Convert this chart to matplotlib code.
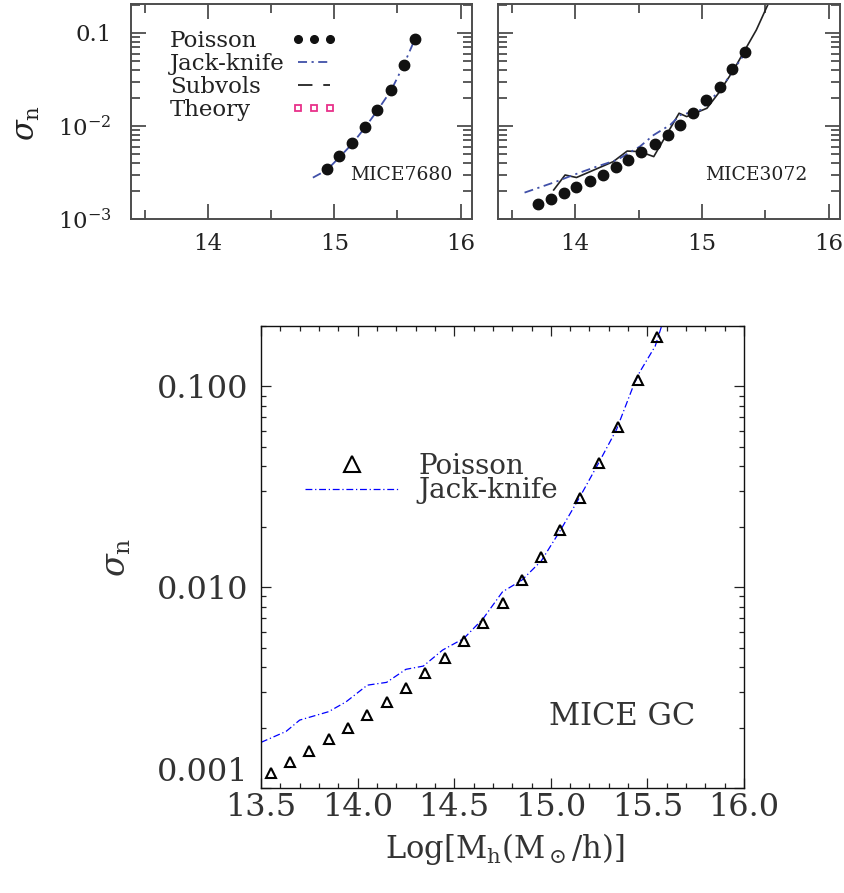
import matplotlib
matplotlib.use("Agg")
import matplotlib.pyplot as plt
from matplotlib.lines import Line2D
from matplotlib.ticker import FixedLocator, MultipleLocator, LogLocator, NullFormatter

plt.rcParams['font.family'] = ['DejaVu Serif']
plt.rcParams['mathtext.fontset'] = 'dejavuserif'

# MICE7680 (top left)
m7680_x = [14.94, 15.04, 15.14, 15.24, 15.34, 15.45, 15.55, 15.64]
m7680_pois = [0.00345, 0.00472, 0.00652, 0.00968, 0.0148, 0.0244, 0.0456, 0.0855]
m7680_jk_x = [14.83, 14.94, 15.04, 15.14, 15.24, 15.34, 15.45, 15.55, 15.63]
m7680_jk = [0.00278, 0.00335, 0.00460, 0.00640, 0.0095, 0.0146, 0.0242, 0.0455, 0.081]

# MICE3072 (top right)
m3072_x = [13.71, 13.81, 13.91, 14.01, 14.12, 14.22, 14.32, 14.42, 14.52,
           14.63, 14.73, 14.83, 14.93, 15.03, 15.14, 15.24, 15.34]
m3072_pois = [0.00145, 0.00165, 0.00192, 0.00219, 0.00258, 0.00299, 0.0036, 0.00428, 0.00521,
              0.0064, 0.00805, 0.0103, 0.0137, 0.0190, 0.0265, 0.041, 0.063]
m3072_jk_x = [13.60, 13.85, 13.985, 14.17, 14.33, 14.51, 14.62, 14.75, 14.83, 14.99, 15.14, 15.25, 15.34]
m3072_jk = [0.00192, 0.00252, 0.00297, 0.00366, 0.00431, 0.0060, 0.0080, 0.01026, 0.0131,
            0.01486, 0.0240, 0.040, 0.0605]
m3072_sv_x = [13.83, 13.92, 14.01, 14.30, 14.41, 14.51, 14.62, 14.82, 14.88, 15.04, 15.13,
              15.25, 15.34, 15.43, 15.52, 15.60]
m3072_sv = [0.00205, 0.00297, 0.00279, 0.00413, 0.00537, 0.0053, 0.00468, 0.0137, 0.0126,
            0.0155, 0.0224, 0.0398, 0.0656, 0.1076, 0.2, 0.316]

# MICE GC (bottom)
gc_x = [13.55, 13.65, 13.75, 13.85, 13.95, 14.05, 14.15, 14.25, 14.35, 14.45, 14.55,
        14.65, 14.75, 14.85, 14.95, 15.05, 15.15, 15.25, 15.35, 15.45, 15.55]
gc_pois = [0.00119, 0.00135, 0.00153, 0.00175, 0.00200, 0.00231, 0.00268, 0.00315, 0.00373,
           0.00445, 0.00541, 0.00667, 0.00836, 0.0108, 0.0142, 0.0192, 0.0279, 0.0414,
           0.0627, 0.108, 0.176]
gc_jk_x = [13.50, 13.63, 13.70, 13.85, 13.94, 14.05, 14.15, 14.25, 14.34, 14.44, 14.55, 14.65,
           14.75, 14.85, 14.95, 15.05, 15.15, 15.25, 15.34, 15.43, 15.46, 15.54, 15.60]
gc_jk = [0.001687, 0.001914, 0.002178, 0.002399, 0.002685, 0.003251, 0.003357, 0.003899,
         0.004046, 0.004864, 0.005559, 0.006982, 0.009484, 0.01084, 0.01349, 0.01923,
         0.02812, 0.04198, 0.06095, 0.1023, 0.1178, 0.1585, 0.240]

top_ticks = [14, 15, 16]
top_ylabels = ['$10^{-3}$', '$10^{-2}$', '0.1']
top_legend = ['Poisson', 'Jack-knife', 'Subvols', 'Theory']
gc_xticks = [13.5, 14.0, 14.5, 15.0, 15.5, 16.0]
gc_ylabels = ['0.001', '0.010', '0.100']

grey = '#4d4d4d'
jk_top = '#4050a8'
pink = '#e8318a'

fig = plt.figure(figsize=(8.45, 8.93), dpi=100)
ax1 = fig.add_axes([0.155, 0.7548, 0.4036, 0.2408])
ax2 = fig.add_axes([0.5893, 0.7548, 0.4047, 0.2408])
ax3 = fig.add_axes([0.3089, 0.1176, 0.5716, 0.5174])


def style_top(ax):
    ax.set_yscale('log')
    ax.set_xlim(13.39, 16.09)
    ax.set_ylim(1e-3, 0.205)
    for s in ax.spines.values():
        s.set_color(grey)
        s.set_linewidth(1.4)
    ax.xaxis.set_major_locator(FixedLocator(top_ticks))
    ax.xaxis.set_minor_locator(MultipleLocator(0.5))
    ax.yaxis.set_major_locator(FixedLocator([1e-3, 1e-2, 1e-1]))
    ax.yaxis.set_minor_locator(LogLocator(base=10, subs=range(2, 10)))
    ax.yaxis.set_minor_formatter(NullFormatter())
    ax.tick_params(which='both', direction='in', top=True, right=True, color=grey,
                   width=1.3, labelsize=16.5, labelcolor='#222222')
    ax.tick_params(which='major', length=11)
    ax.tick_params(which='minor', length=6.5)
    ax.tick_params(axis='x', which='major', pad=10)
    ax.tick_params(axis='y', which='major', pad=14)


style_top(ax1)
style_top(ax2)
ax1.set_yticklabels(top_ylabels)
ax2.set_yticklabels([])

jk_dash = (5, 2.5, 1.2, 2.5)
ax1.plot(m7680_jk_x, m7680_jk, color=jk_top, lw=1.3, dashes=jk_dash)
ax1.plot(m7680_x, m7680_pois, 'o', color='#111111', ms=7.5)
ax1.text(0.792, 0.205, 'MICE7680', transform=ax1.transAxes, fontsize=13.5,
         ha='center', va='center', color='#222222')
ax1.set_ylabel(r'$\sigma_{\rm n}$', fontsize=22, color='#222222')
ax1.yaxis.set_label_coords(-0.26, 0.447)

ax2.plot(m3072_sv_x, m3072_sv, color='#222222', lw=1.2)
ax2.plot(m3072_jk_x, m3072_jk, color=jk_top, lw=1.3, dashes=jk_dash)
ax2.plot(m3072_x, m3072_pois, 'o', color='#111111', ms=7.5)
ax2.text(0.756, 0.205, 'MICE3072', transform=ax2.transAxes, fontsize=13.5,
         ha='center', va='center', color='#222222')

# legend: left-aligned names, keys in a column to their right
leg_opts = dict(loc='upper left', bbox_to_anchor=(0.114, 0.88), frameon=False, fontsize=16.5,
                labelspacing=0.05, borderpad=0, borderaxespad=0)
blank = [Line2D([], [], ls='none') for _ in top_legend]
names = ax1.legend(blank, top_legend, handlelength=0, handletextpad=0,
                   labelcolor='#222222', **leg_opts)
ax1.add_artist(names)
keys = [
    Line2D([], [], ls='none', marker='o', color='#111111', ms=5.5),
    Line2D([], [], color=jk_top, lw=1.3, dashes=jk_dash),
    Line2D([], [], color='#222222', lw=1.3, dashes=(8, 6)),
    Line2D([], [], ls='none', marker='s', mfc='none', mec=pink, mew=1.3, ms=5),
]
key_leg = ax1.legend(keys, top_legend, markerfirst=False, numpoints=3, handlelength=2.0,
                     handletextpad=0.3, **leg_opts)
# the names are already drawn by the first legend; keep only the spacing here
for t in key_leg.get_texts():
    t.set_visible(False)

# bottom panel
ax3.set_yscale('log')
ax3.set_xlim(13.5, 16.0)
ax3.set_ylim(1e-3, 0.2)
for s in ax3.spines.values():
    s.set_linewidth(1.0)
    s.set_color('#111111')
ax3.xaxis.set_major_locator(FixedLocator(gc_xticks))
ax3.xaxis.set_minor_locator(MultipleLocator(0.1))
ax3.yaxis.set_major_locator(FixedLocator([1e-3, 1e-2, 1e-1]))
ax3.yaxis.set_minor_locator(LogLocator(base=10, subs=range(2, 10)))
ax3.yaxis.set_minor_formatter(NullFormatter())
ax3.set_xticklabels([f'{t:.1f}' for t in gc_xticks])
ax3.set_yticklabels(gc_ylabels)
ax3.get_yticklabels()[0].set_va('bottom')
ax3.tick_params(which='both', direction='in', top=True, right=True, width=0.9,
                color='#222222', labelsize=23, labelcolor='#333333')
ax3.tick_params(which='major', length=7.5)
ax3.tick_params(which='minor', length=3.8)
ax3.tick_params(axis='x', which='major', pad=3)
ax3.tick_params(axis='y', which='major', pad=9)

ax3.plot(gc_jk_x, gc_jk, color='#0000ff', lw=0.9, dashes=(5.5, 2.2, 1, 2.2), label='Jack-knife')
ax3.plot(gc_x, gc_pois, '^', mfc='none', mec='black', mew=1.5, ms=7, label='Poisson')

h, l = ax3.get_legend_handles_labels()
ax3.legend(h[::-1], l[::-1], loc='upper left', bbox_to_anchor=(0.091, 0.725), frameon=False,
           numpoints=1, markerscale=1.6, fontsize=20, handlelength=3.4, handletextpad=0.7,
           labelspacing=-0.1, borderpad=0, borderaxespad=0, labelcolor='#333333')

ax3.text(0.747, 0.154, 'MICE GC', transform=ax3.transAxes, fontsize=22,
         ha='center', va='center', color='#333333')
ax3.set_xlabel(r'Log[M$_{\rm h}$(M$_\odot$/h)]', fontsize=22, color='#333333')
ax3.xaxis.set_label_coords(0.505, -0.093)
ax3.set_ylabel(r'$\sigma_{\rm n}$', fontsize=24, color='#333333')
ax3.yaxis.set_label_coords(-0.265, 0.498)

fig.savefig('out.png', dpi=100)
